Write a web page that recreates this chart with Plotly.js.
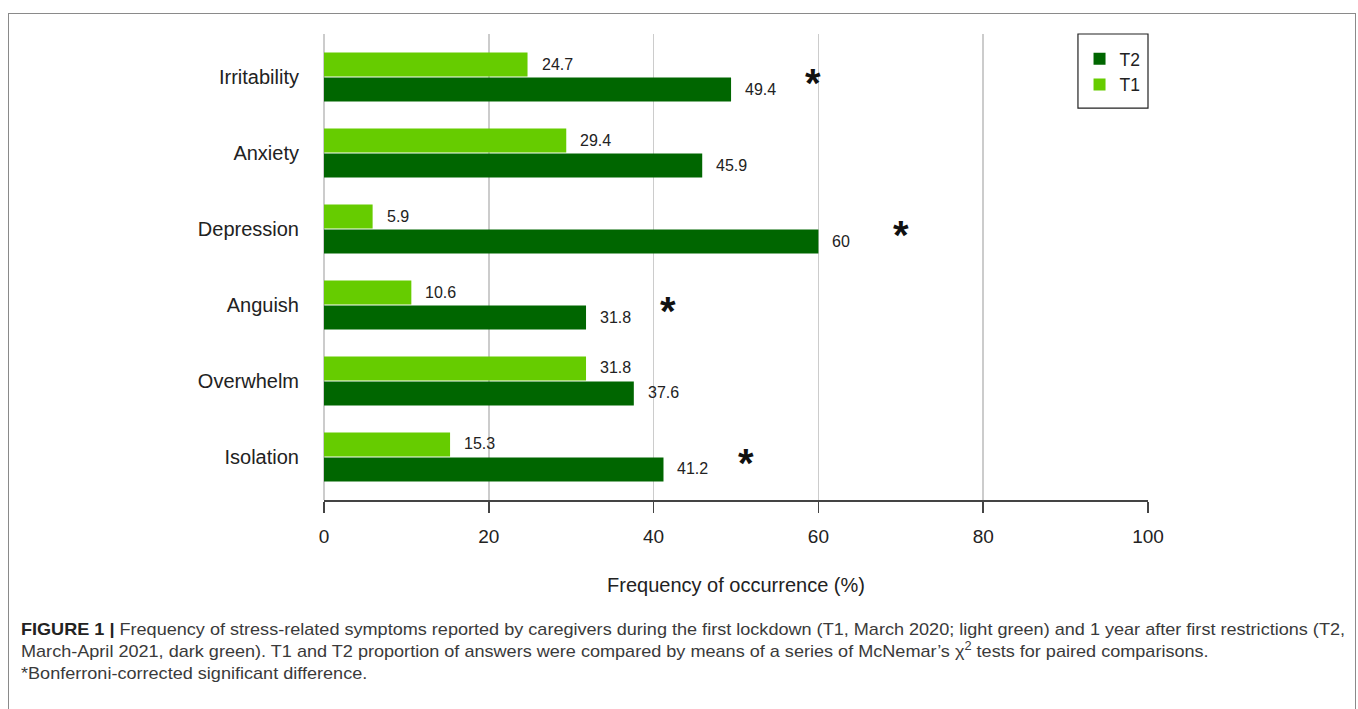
<!DOCTYPE html>
<html>
<head>
<meta charset="utf-8">
<script src="https://cdn.plot.ly/plotly-3.0.1.min.js"></script>
<style>
  html, body { margin: 0; padding: 0; background: #fff; width: 1358px; height: 709px; overflow: hidden; }
  #frame { position: absolute; left: 8px; top: 13px; width: 1348px; height: 720px; border: 1.5px solid #8a8a8a; box-sizing: border-box; }
  #chart { position: absolute; left: 0; top: 0; width: 1358px; height: 709px; }
  #caption { position: absolute; left: 21px; top: 619px; font-family: "Liberation Sans", Arial, sans-serif; font-size: 17px; line-height: 22px; color: #3a3a3a; white-space: nowrap; transform-origin: 0 0; }
  #caption span { display: block; }
  #caption b { color: #222; }
</style>
</head>
<body>
<div id="frame"></div>
<div id="chart"></div>
<div id="caption">
<span id="capline1"><b>FIGURE 1 |</b> Frequency of stress-related symptoms reported by caregivers during the first lockdown (T1, March 2020; light green) and 1 year after first restrictions (T2,</span>
<span>March-April 2021, dark green). T1 and T2 proportion of answers were compared by means of a series of McNemar’s χ<sup style="font-size:12px;vertical-align:7px;line-height:0">2</sup> tests for paired comparisons.</span>
<span>*Bonferroni-corrected significant difference.</span>
</div>
<script>
const categories = ["Irritability", "Anxiety", "Depression", "Anguish", "Overwhelm", "Isolation"];
const t1Values = [24.7, 29.4, 5.9, 10.6, 31.8, 15.3];
const t2Values = [49.4, 45.9, 60, 31.8, 37.6, 41.2];
const significant = [true, false, true, true, false, true];
const xTicks = [0, 20, 40, 60, 80, 100];

const lightGreen = "#66cc00";
const darkGreen = "#006600";

// fit caption line 1 to reference width
(function () {
  const cap = document.getElementById("caption");
  const l1 = document.getElementById("capline1");
  l1.style.display = "inline-block";
  const w = l1.getBoundingClientRect().width;
  l1.style.display = "block";
  cap.style.transform = "scaleX(" + (1324 / w) + ")";
})();

const traces = [
  { type: "bar", orientation: "h", name: "T1", y: categories, x: t1Values,
    marker: { color: lightGreen }, hoverinfo: "x" },
  { type: "bar", orientation: "h", name: "T2", y: categories, x: t2Values,
    marker: { color: darkGreen }, hoverinfo: "x" }
];

const annotations = [];
const labelFont = { family: "Liberation Sans, Arial, sans-serif", size: 16, color: "#222" };
categories.forEach((c, i) => {
  annotations.push({ x: t1Values[i], y: c, xref: "x", yref: "y", text: String(t1Values[i]),
    showarrow: false, xanchor: "left", yanchor: "middle", xshift: 12, yshift: 13, font: labelFont });
  annotations.push({ x: t2Values[i], y: c, xref: "x", yref: "y", text: String(t2Values[i]),
    showarrow: false, xanchor: "left", yanchor: "middle", xshift: 12, yshift: -12, font: labelFont });
  if (significant[i]) {
    annotations.push({ x: t2Values[i] + 10, y: c, xref: "x", yref: "y", text: "<b>*</b>",
      showarrow: false, xanchor: "center", yanchor: "middle", yshift: -6,
      font: { family: "Liberation Sans, Arial, sans-serif", size: 40, color: "#111" } });
  }
});

const layout = {
  width: 1358, height: 709,
  paper_bgcolor: "rgba(0,0,0,0)", plot_bgcolor: "rgba(0,0,0,0)",
  margin: { l: 324, r: 210, t: 34, b: 209, pad: 0 },
  barmode: "group", bargap: 0.34, bargroupgap: 0.04,
  font: { family: "Liberation Sans, Arial, sans-serif", color: "#222" },
  xaxis: {
    range: [0, 100], tickvals: xTicks, ticktext: xTicks.map(String),
    showgrid: true, gridcolor: "#cccccc", gridwidth: 1.5,
    zeroline: true, zerolinecolor: "#cccccc", zerolinewidth: 1.5,
    showline: true, linecolor: "#444", linewidth: 1.5,
    ticks: "outside", ticklen: 11, tickwidth: 1.5, tickcolor: "#444",
    ticklabelstandoff: 8,
    tickfont: { size: 19, color: "#222" },
    title: { text: "Frequency of occurrence (%)", font: { size: 20, color: "#222" }, standoff: 31 },
    fixedrange: true
  },
  yaxis: {
    type: "category", autorange: false, range: [5.566, -0.566],
    showgrid: false, zeroline: false, showline: false, ticks: "",
    ticklabelstandoff: 24,
    tickfont: { size: 20, color: "#222" },
    fixedrange: true
  },
  legend: {
    x: 0.997, xanchor: "right", y: 0.985, yanchor: "top",
    borderwidth: 0, bgcolor: "rgba(0,0,0,0)",
    traceorder: "reversed", font: { size: 17.5, color: "#222" },
    itemwidth: 30, tracegroupgap: 0
  },
  shapes: [
    { type: "rect", xref: "paper", yref: "paper", x0: 0.915, x1: 1.0, y0: 0.841, y1: 1.0,
      line: { color: "#222", width: 1.2 }, fillcolor: "#fff", layer: "below" }
  ],
  annotations: annotations,
  showlegend: true
};

Plotly.newPlot("chart", traces, layout, { displayModeBar: false, staticPlot: true });
</script>
</body>
</html>
